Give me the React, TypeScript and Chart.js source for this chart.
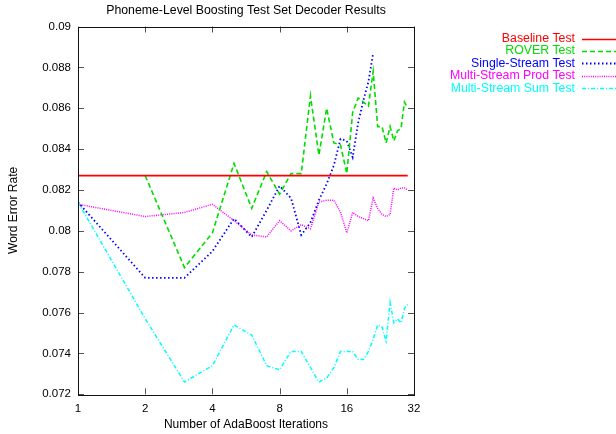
import React, { useEffect, useRef } from "react";
import { Chart, registerables } from "chart.js";

Chart.register(...registerables);

const iterations = [1, 2, 3, 4, 5, 6, 7, 8, 9, 10, 11, 12, 13, 14, 15, 16, 17, 18, 19, 20, 21, 22, 23, 24, 25, 26, 27, 28, 29, 30];
const xTickValues = [1, 2, 4, 8, 16, 32];

const baselineTest = [0.0827, 0.0827, 0.0827, 0.0827, 0.0827, 0.0827, 0.0827, 0.0827, 0.0827, 0.0827, 0.0827, 0.0827, 0.0827, 0.0827, 0.0827, 0.0827, 0.0827, 0.0827, 0.0827, 0.0827, 0.0827, 0.0827, 0.0827, 0.0827, 0.0827, 0.0827, 0.0827, 0.0827, 0.0827, 0.0827];
const roverTest = [null, 0.0827, 0.0782, 0.0799, 0.0833, 0.0811, 0.0829, 0.0818, 0.0828, 0.0828, 0.0866, 0.0837, 0.0860, 0.0843, 0.0842, 0.0828, 0.0858, 0.0865, 0.0863, 0.0861, 0.0878, 0.0851, 0.0851, 0.0843, 0.0851, 0.0844, 0.0849, 0.0850, 0.0863, 0.0860];
const singleStreamTest = [0.0814, 0.0777, 0.0777, 0.0790, 0.0806, 0.0797, 0.0810, 0.0822, 0.0816, 0.0798, 0.0804, 0.0815, 0.0823, 0.0832, 0.0845, 0.0844, 0.0836, 0.0853, 0.0864, 0.0873, 0.0887];
const multiStreamProdTest = [0.0813, 0.0807, 0.0809, 0.0813, 0.0805, 0.0798, 0.0797, 0.0805, 0.0800, 0.0803, 0.0801, 0.0814, 0.0815, 0.0815, 0.0809, 0.0799, 0.0809, 0.0807, 0.0806, 0.0805, 0.0816, 0.0811, 0.0808, 0.0807, 0.0808, 0.0821, 0.0820, 0.0821, 0.0821, 0.0820];
const multiStreamSumTest = [0.0814, 0.0757, 0.0726, 0.0734, 0.0754, 0.0749, 0.0734, 0.0732, 0.0741, 0.0741, 0.0733, 0.0726, 0.0728, 0.0733, 0.0741, 0.0741, 0.0741, 0.0737, 0.0737, 0.0741, 0.0747, 0.0754, 0.0753, 0.0746, 0.0765, 0.0755, 0.0757, 0.0755, 0.0762, 0.0764];

const seriesNames = ["Baseline Test", "ROVER Test", "Single-Stream Test", "Multi-Stream Prod Test", "Multi-Stream Sum Test"];
const seriesColors = ["#ff0000", "#00dd00", "#0000ff", "#ff00ff", "#00ffff"];
const seriesDashes: number[][] = [[], [5, 3], [1.5, 2.5], [1, 1.2], [4, 2, 1, 2]];
const seriesWidths = [1.6, 1.6, 1.8, 1.5, 1.5];

const FONT = "'Liberation Sans', Arial, Helvetica, sans-serif";

function toPoints(values: (number | null)[]) {
  return values.map((v, i) => ({ x: iterations[i], y: v }));
}

const frameTicksPlugin = {
  id: "frameTicks",
  afterDatasetsDraw(chart: any) {
    const { ctx, chartArea, scales } = chart;
    const { left, right, top, bottom } = chartArea;
    ctx.save();
    ctx.setLineDash([]);
    ctx.strokeStyle = "#555";
    ctx.lineWidth = 1;
    const len = 6;
    ctx.beginPath();
    for (const v of xTickValues) {
      const px = Math.round(scales.x.getPixelForValue(v)) + 0.5;
      ctx.moveTo(px, bottom);
      ctx.lineTo(px, bottom - len);
      ctx.moveTo(px, top);
      ctx.lineTo(px, top + len);
    }
    for (const t of scales.y.ticks) {
      const py = Math.round(scales.y.getPixelForValue(t.value)) + 0.5;
      ctx.moveTo(left, py);
      ctx.lineTo(left + len, py);
      ctx.moveTo(right, py);
      ctx.lineTo(right - len, py);
    }
    ctx.stroke();
    ctx.strokeStyle = "#111";
    ctx.lineWidth = 1;
    ctx.strokeRect(Math.round(left) + 0.5, Math.round(top) + 0.5, Math.round(right - left), Math.round(bottom - top));
    ctx.restore();
  },
};

const keyPlugin = {
  id: "gnuKey",
  afterDraw(chart: any) {
    const { ctx } = chart;
    ctx.save();
    ctx.font = `12.3px ${FONT}`;
    ctx.textAlign = "right";
    ctx.textBaseline = "middle";
    seriesNames.forEach((name, i) => {
      const y = 38.5 + i * 12.45;
      ctx.fillStyle = seriesColors[i];
      ctx.fillText(name, 575, y);
      ctx.strokeStyle = seriesColors[i];
      ctx.lineWidth = seriesWidths[i];
      ctx.setLineDash(seriesDashes[i]);
      ctx.beginPath();
      ctx.moveTo(582, Math.round(y) + 0.5);
      ctx.lineTo(616, Math.round(y) + 0.5);
      ctx.stroke();
    });
    ctx.restore();
  },
};

export default function App() {
  const canvasRef = useRef<HTMLCanvasElement | null>(null);

  useEffect(() => {
    if (!canvasRef.current) return;
    const allSeries = [baselineTest, roverTest, singleStreamTest, multiStreamProdTest, multiStreamSumTest];
    const chart = new Chart(canvasRef.current, {
      type: "line",
      data: {
        datasets: allSeries.map((vals, i) => ({
          label: seriesNames[i],
          data: toPoints(vals as (number | null)[]),
          borderColor: seriesColors[i],
          backgroundColor: seriesColors[i],
          borderWidth: seriesWidths[i],
          borderDash: seriesDashes[i],
          pointRadius: 0,
          tension: 0,
          fill: false,
        })),
      },
      options: {
        responsive: false,
        animation: false,
        devicePixelRatio: 1,
        layout: { padding: { left: 0, right: 202, top: 0, bottom: 0 } },
        plugins: {
          legend: { display: false },
          tooltip: { enabled: false },
          title: {
            display: true,
            text: "Phoneme-Level Boosting Test Set Decoder Results",
            fullSize: false,
            color: "#000",
            font: { family: FONT, size: 12.3, weight: "normal" },
            padding: { top: 3, bottom: 8.74 },
          },
        },
        scales: {
          x: {
            type: "logarithmic",
            min: 1,
            max: 32,
            grid: { display: false, drawTicks: false },
            border: { display: false },
            afterBuildTicks: (scale: any) => {
              scale.ticks = xTickValues.map((v) => ({ value: v }));
            },
            afterFit: (scale: any) => {
              scale.height = 39.7;
            },
            ticks: {
              autoSkip: false,
              maxRotation: 0,
              padding: 7.5,
              color: "#000",
              font: { family: FONT, size: 11.5 },
              callback: (v: any) => String(v),
            },
            title: {
              display: true,
              text: "Number of AdaBoost Iterations",
              color: "#000",
              font: { family: FONT, size: 12 },
              padding: { top: 0, bottom: 2 },
            },
          },
          y: {
            type: "linear",
            min: 0.072,
            max: 0.09,
            grid: { display: false, drawTicks: false },
            border: { display: false },
            afterFit: (scale: any) => {
              scale.width = 78;
            },
            ticks: {
              stepSize: 0.002,
              padding: 7,
              color: "#000",
              font: { family: FONT, size: 11.5 },
              callback: (v: any) => String(Number(Number(v).toFixed(3))),
            },
            title: {
              display: true,
              text: "Word Error Rate",
              color: "#000",
              font: { family: FONT, size: 12 },
              padding: { top: 6.8, bottom: 0 },
            },
          },
        },
      } as any,
      plugins: [frameTicksPlugin, keyPlugin],
    });
    return () => chart.destroy();
  }, []);

  return (
    <div style={{ position: "fixed", left: 0, top: 0, width: 616, height: 434, background: "#fff" }}>
      <canvas ref={canvasRef} width={616} height={434} style={{ display: "block" }} />
    </div>
  );
}
